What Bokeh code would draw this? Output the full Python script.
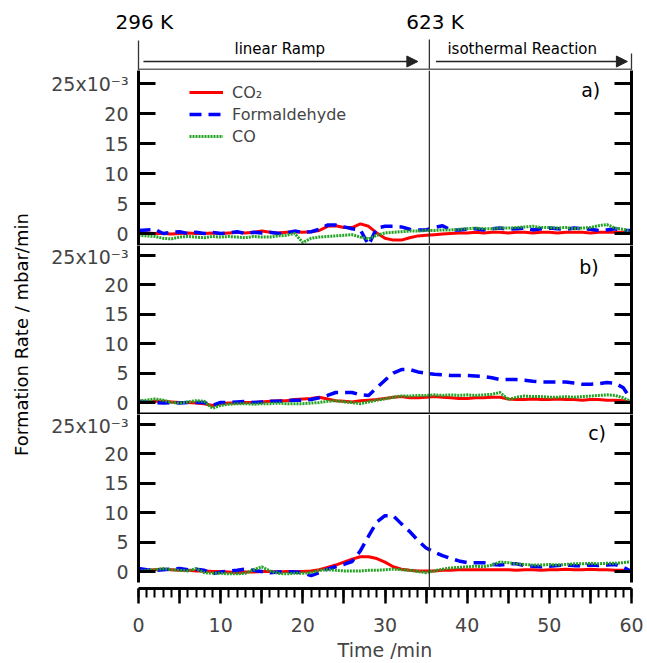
import math
from bokeh.plotting import figure
from bokeh.models import (Range1d, LinearAxis, FixedTicker, Span, Label, Arrow,
                          NormalHead, Legend, LegendItem)
from bokeh.layouts import column, row
from bokeh.embed import file_html
from bokeh.resources import INLINE

# ---------------- data (formation rate, 1e-3 mbar/min) ----------------
time_min = list(range(0, 61))

a_co2 = [0.1, 0.1, 0.0, 0.0, -0.1, 0.0, 0.1, 0.0, 0.0, 0.1,
         0.0, 0.1, 0.2, 0.1, 0.2, 0.4, 0.2, 0.1, 0.2, 0.3,
         0.2, 0.3, 0.5, 1.2, 1.3, 1.0, 1.0, 1.6, 1.2, 0.1,
         -0.8, -1.1, -1.1, -0.7, -0.4, -0.3, -0.2, -0.1, 0.0, 0.1,
         0.1, 0.2, 0.1, 0.2, 0.2, 0.1, 0.2, 0.2, 0.1, 0.2,
         0.2, 0.1, 0.2, 0.2, 0.2, 0.1, 0.2, 0.2, 0.2, 0.2,
         0.0]
a_formaldehyde = [0.5, 0.6, 0.7, 0.0, 0.2, 0.3, 0.0, 0.2, 0.0, 0.2,
                  0.0, 0.1, 0.3, 0.0, 0.2, 0.1, 0.2, 0.0, 0.1, 0.4,
                  0.2, 0.3, 0.7, 1.4, 1.4, 1.1, 0.8, 0.6, -1.9, 0.9,
                  1.2, 1.2, 1.1, 0.7, 0.6, 0.6, 1.0, 1.3, 0.6, 0.6,
                  0.7, 0.8, 0.6, 0.8, 0.9, 0.7, 0.8, 0.9, 0.6, 0.8,
                  0.9, 0.8, 0.7, 0.9, 0.8, 0.7, 0.5, 0.6, 0.8, 0.5,
                  0.5]
a_co = [-0.3, -0.4, -0.5, -0.8, -0.9, -0.6, -0.5, -0.6, -0.7, -0.5,
        -0.6, -0.5, -0.6, -0.7, -0.5, -0.6, -0.6, -0.4, -0.3, 0.0,
        -1.5, -0.8, -0.6, -0.5, -0.4, -0.3, -0.2, -0.6, -0.9, -0.3,
        0.1, 0.2, 0.3, 0.4, 0.4, 0.5, 0.5, 0.6, 0.6, 0.7,
        0.8, 0.9, 0.8, 0.8, 0.9, 0.9, 1.0, 1.1, 1.2, 1.0,
        1.0, 0.9, 1.0, 0.8, 0.9, 1.0, 1.3, 1.5, 0.9, 0.7,
        0.3]

b_co2 = [0.0, 0.0, 0.2, 0.2, 0.1, 0.0, 0.0, -0.1, -0.2, -0.5,
         -0.2, -0.1, -0.1, 0.0, 0.0, 0.1, 0.2, 0.3, 0.3, 0.5,
         0.6, 0.7, 0.9, 0.6, 0.3, 0.2, 0.1, 0.3, 0.4, 0.5,
         0.7, 0.9, 1.0, 0.8, 0.8, 0.9, 1.0, 0.9, 0.8, 0.7,
         0.7, 0.8, 0.8, 0.9, 0.9, 0.6, 0.5, 0.5, 0.6, 0.5,
         0.5, 0.6, 0.5, 0.5, 0.4, 0.5, 0.5, 0.4, 0.4, 0.3,
         0.0]
b_formaldehyde = [0.2, 0.1, 0.0, -0.1, 0.0, -0.1, 0.0, 0.0, 0.0, -0.5,
                  0.0, 0.0, 0.1, 0.2, 0.0, 0.1, 0.2, 0.2, 0.3, 0.4,
                  0.4, 0.5, 0.8, 1.2, 1.7, 1.7, 1.7, 1.3, 1.2, 2.5,
                  3.8, 5.0, 5.6, 5.6, 5.2, 5.0, 4.8, 4.7, 4.6, 4.6,
                  4.6, 4.5, 4.4, 4.2, 3.9, 3.9, 3.9, 3.8, 3.6, 3.5,
                  3.5, 3.5, 3.5, 3.3, 3.1, 3.1, 3.2, 3.4, 3.3, 2.5,
                  0.4]
b_co = [0.3, 0.4, 0.6, 0.4, 0.0, -0.1, 0.1, 0.3, 0.2, -1.0,
        -0.5, -0.3, -0.2, -0.2, -0.3, -0.2, -0.2, -0.1, -0.2, -0.2,
        -0.2, -0.1, 0.0, 0.2, 0.3, 0.1, 0.0, -0.2, 0.1, 0.4,
        0.6, 0.9, 1.1, 1.1, 1.2, 1.2, 1.3, 1.2, 1.3, 1.2,
        1.3, 1.2, 1.3, 1.4, 1.7, 0.5, 0.9, 1.1, 1.0, 1.0,
        0.9, 0.9, 1.0, 0.9, 1.0, 1.1, 1.2, 1.3, 1.2, 0.8,
        0.1]

c_co2 = [0.2, 0.2, 0.3, 0.4, 0.3, 0.2, 0.2, 0.1, 0.1, 0.0,
         0.0, -0.1, -0.2, -0.1, -0.1, 0.0, 0.0, -0.1, 0.0, 0.0,
         0.0, 0.1, 0.3, 0.7, 1.1, 1.6, 2.1, 2.5, 2.5, 2.2,
         1.6, 0.8, 0.4, 0.2, 0.1, 0.1, 0.1, 0.2, 0.2, 0.3,
         0.3, 0.3, 0.3, 0.3, 0.3, 0.3, 0.2, 0.3, 0.3, 0.2,
         0.3, 0.3, 0.4, 0.3, 0.3, 0.4, 0.3, 0.3, 0.2, 0.2,
         0.0]
c_formaldehyde = [0.5, 0.3, 0.2, 0.3, 0.4, 0.5, 0.3, 0.4, 0.2, -0.4,
                  -0.1, 0.1, 0.2, 0.4, 0.2, 0.0, -0.2, -0.1, 0.0, -0.1,
                  -0.2, -0.7, -0.2, 0.4, 0.8, 1.2, 1.7, 3.5, 6.0, 8.4,
                  9.5, 9.5, 8.1, 6.8, 5.3, 4.0, 3.3, 2.7, 2.2, 1.8,
                  1.5, 1.5, 1.5, 1.2, 1.1, 1.3, 1.3, 1.0, 0.9, 0.8,
                  0.9, 1.0, 1.1, 1.0, 1.0, 1.1, 1.0, 1.1, 1.2, 0.7,
                  0.0]
c_co = [0.0, 0.2, 0.3, 0.5, 0.3, 0.2, 0.1, 0.5, -0.2, -0.3,
        -0.3, -0.4, -0.4, -0.3, 0.3, 0.8, 0.1, -0.3, -0.4, -0.3,
        -0.3, -0.2, 0.2, 0.3, 0.2, 0.1, 0.1, 0.1, 0.2, 0.2,
        0.3, 0.4, 0.3, 0.2, 0.0, -0.2, 0.1, 0.4, 0.6, 0.7,
        0.8, 0.9, 0.8, 1.1, 1.6, 1.5, 1.3, 1.2, 1.1, 1.1,
        1.2, 1.1, 1.2, 1.3, 1.3, 1.4, 1.3, 1.4, 1.4, 1.5,
        1.7]

series_names = ["CO\u2082", "Formaldehyde", "CO"]
panel_labels = ["a)", "b)", "c)"]
temp_labels = ["296 K", "623 K"]
phase_labels = ["linear Ramp", "isothermal Reaction"]
y_label = "Formation Rate / mbar/min"
x_label = "Time /min"
y_ticks = [0, 5, 10, 15, 20, 25]
x_major = list(range(0, 61, 5))
x_minor = list(range(0, 61))
t_start, t_end = 0, 60
ramp_end = 35.4          # time at which 623 K is reached

FONT = "DejaVu Sans"
RED, BLUE, GREEN = "#ff0000", "#0000ff", "#22a322"
GUTTER_W = 40
LEFT_B = 98
FRAME_W = 493
RIGHT_B = 16
COL_W = LEFT_B + FRAME_W + RIGHT_B
TOTAL_W = GUTTER_W + COL_W
HEADER_H = 70
TOTAL_H = 663
PX_PER_MIN = FRAME_W / (t_end - t_start)


def blank_fig(w, h, xr, yr):
    p = figure(width=w, height=h, x_range=xr, y_range=yr,
               output_backend="svg", toolbar_location=None,
               x_axis_location=None, y_axis_location=None,
               min_border_left=0, min_border_right=0,
               min_border_top=0, min_border_bottom=0, align="start")
    p.outline_line_color = None
    p.grid.visible = False
    return p


def make_fig(y_lo, y_hi, frame_h, bottom_border=0):
    p = figure(width=COL_W, height=frame_h + bottom_border,
               x_range=Range1d(t_start, t_end), y_range=Range1d(y_lo, y_hi),
               output_backend="svg", toolbar_location=None,
               x_axis_location=None, y_axis_location=None,
               min_border_left=LEFT_B, min_border_right=RIGHT_B,
               min_border_top=0, min_border_bottom=bottom_border, align="start")
    p.outline_line_color = None
    p.grid.visible = False
    return p


def add_y_axes(p, bounds):
    common = dict(ticker=FixedTicker(ticks=y_ticks, minor_ticks=[]), bounds=bounds,
                  major_tick_in=17, major_tick_out=0, major_tick_line_width=3,
                  axis_line_width=3, minor_tick_line_color=None)
    left = LinearAxis(major_label_overrides={25: "25x10\u207b\u00b3"},
                      major_label_text_font=FONT, major_label_text_font_size="19px",
                      major_label_standoff=10, **common)
    right = LinearAxis(major_label_overrides={t: "" for t in y_ticks},
                       major_label_text_font_size="0px", major_label_standoff=0,
                       axis_label_standoff=0, **common)
    p.add_layout(left, "left")
    p.add_layout(right, "right")


def add_lines(p, co2, form, co):
    r1 = p.line(time_min, co2, line_color=RED, line_width=3)
    r2 = p.line(time_min, form, line_color=BLUE, line_width=3.5, line_dash="12 7")
    r3 = p.line(time_min, co, line_color=GREEN, line_width=3, line_dash="2 1")
    return [r1, r2, r3]


def panel_label(p, text, x, y):
    p.add_layout(Label(x=x, y=y, text=text, text_align="right", text_baseline="middle",
                       text_font=FONT, text_font_size="19px", text_color="black"))


# ---------------- header (temperatures / phases), full page width ----------------
x0_px = GUTTER_W + LEFT_B
hx0 = t_start - x0_px / PX_PER_MIN
hx1 = t_end + (TOTAL_W - x0_px - FRAME_W) / PX_PER_MIN
header = blank_fig(TOTAL_W, HEADER_H, Range1d(hx0, hx1), Range1d(HEADER_H, 0))
for txt, xc in zip(temp_labels, [0.7, 36.1]):
    header.add_layout(Label(x=xc, y=21, text=txt, text_align="center", text_baseline="middle",
                            text_font=FONT, text_font_size="20px", text_color="black"))
for txt, xc in zip(phase_labels, [17.2, 46.7]):
    header.add_layout(Label(x=xc, y=48, text=txt, text_align="center", text_baseline="middle",
                            text_font=FONT, text_font_size="15px", text_color="black"))
for xs, xe in [(0.6, 34.0), (36.2, 59.5)]:
    header.add_layout(Arrow(x_start=xs, y_start=61, x_end=xe, y_end=61,
                            line_color="#222222", line_width=1.5,
                            end=NormalHead(size=11, fill_color="#222222", line_color="#222222")))
header.segment(x0=[t_start, ramp_end, t_end], y0=[40, 39, 53],
               x1=[t_start, ramp_end, t_end], y1=[70, 70, 70],
               line_color="#333333", line_width=1.3)
header.segment(x0=[t_start], y0=[69], x1=[t_end], y1=[69], line_color="#666666", line_width=2)

# ---------------- left gutter with the y-axis title ----------------
gutter = blank_fig(GUTTER_W, TOTAL_H - HEADER_H, Range1d(0, GUTTER_W),
                   Range1d(TOTAL_H, HEADER_H))
gutter.add_layout(Label(x=21, y=334, text=y_label, angle=math.pi / 2,
                        text_align="center", text_baseline="middle",
                        text_font=FONT, text_font_size="18px", text_color="black"))

# ---------------- panel a ----------------
A_LO, A_HI = -2.0, 27.17
pa = make_fig(A_LO, A_HI, 175)
add_y_axes(pa, (A_LO, A_HI))
rs = add_lines(pa, a_co2, a_formaldehyde, a_co)
pa.add_layout(Span(location=-1.83, dimension="width", line_color="black", line_width=2))
pa.add_layout(Span(location=ramp_end, dimension="height", line_color="#333333", line_width=1.3))
panel_label(pa, panel_labels[0], 56.2, 24.0)
legend = Legend(items=[LegendItem(label=n, renderers=[r]) for n, r in zip(series_names, rs)],
                location=(51, 98), padding=0, margin=0, spacing=0,
                glyph_width=34, glyph_height=22, label_height=22, label_standoff=9,
                label_text_font=FONT, label_text_font_size="16px",
                background_fill_alpha=0, border_line_color=None)
pa.add_layout(legend)

# ---------------- panel b ----------------
B_LO, B_HI = -2.04, 26.70
pb = make_fig(B_LO, B_HI, 169)
add_y_axes(pb, (B_LO, B_HI))
add_lines(pb, b_co2, b_formaldehyde, b_co)
pb.add_layout(Span(location=-1.87, dimension="width", line_color="black", line_width=2))
pb.add_layout(Span(location=ramp_end, dimension="height", line_color="#333333", line_width=1.3))
panel_label(pb, panel_labels[1], 56.0, 22.96)

# ---------------- panel c ----------------
C_LO, C_HI = -2.89, 26.70
pc = make_fig(C_LO, C_HI, 174, bottom_border=75)
add_y_axes(pc, (-1.9, C_HI))
add_lines(pc, c_co2, c_formaldehyde, c_co)
pc.add_layout(Span(location=ramp_end, dimension="height", line_color="#333333", line_width=1.3))
panel_label(pc, panel_labels[2], 56.9, 23.5)
xa = LinearAxis(ticker=FixedTicker(ticks=x_major, minor_ticks=x_minor),
                major_label_overrides={t: "" for t in x_major if t % 10},
                axis_label=x_label, axis_label_text_font=FONT,
                axis_label_text_font_size="19px", axis_label_text_font_style="normal",
                axis_label_standoff=4,
                major_label_text_font=FONT, major_label_text_font_size="19px",
                major_label_standoff=14,
                major_tick_out=15, major_tick_in=0, major_tick_line_width=2.5,
                minor_tick_out=9, minor_tick_in=0, minor_tick_line_width=2,
                axis_line_width=3)
pc.add_layout(xa, "below")

panels = column(pa, pb, pc, spacing=0, align="start")
layout = column(header, row(gutter, panels, spacing=0, align="start"),
                spacing=0, align="start")
open("out.html", "w").write(file_html(layout, INLINE))
